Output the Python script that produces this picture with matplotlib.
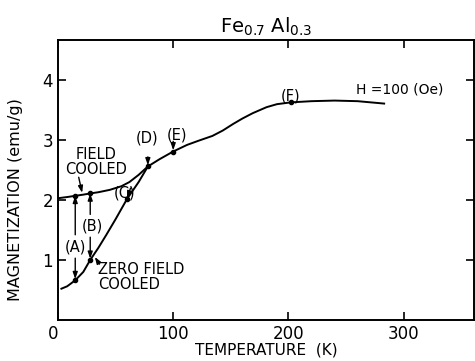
# Fe0.7Al0.3: намагниченность в зависимости от температуры (FC / ZFC)

import matplotlib
matplotlib.use("Agg")
import matplotlib.pyplot as plt

# Кривая при охлаждении в поле (FC)
fc_temp = [0, 8, 15, 22, 28, 35, 45, 55, 62, 70, 78, 88, 100, 112, 122, 134,
           143, 152, 160, 169, 181, 190, 202, 220, 240, 260, 283]
fc_mag = [2.03, 2.05, 2.07, 2.09, 2.11, 2.13, 2.17, 2.23, 2.30, 2.42, 2.56, 2.68,
          2.81, 2.92, 2.99, 3.07, 3.16, 3.27, 3.36, 3.45, 3.55, 3.60, 3.63, 3.65,
          3.66, 3.65, 3.61]

# Кривая при охлаждении без поля (ZFC)
zfc_temp = [3, 8, 15, 22, 28, 35, 42, 50, 60, 70, 78]
zfc_mag = [0.52, 0.56, 0.66, 0.80, 1.00, 1.20, 1.42, 1.68, 2.02, 2.30, 2.56]

# Отмеченные точки
point_names = ["(A)", "(A)", "(B)", "(B)", "(C)", "(D)", "(E)", "(F)"]
point_temp = [15, 15, 28, 28, 60, 78, 100, 202]
point_mag = [0.66, 2.07, 1.00, 2.11, 2.02, 2.56, 2.81, 3.63]

x_ticks = [0, 100, 200, 300]
y_ticks = [1, 2, 3, 4]

fig = plt.figure(figsize=(4.75, 3.61), dpi=100)
ax = fig.add_axes([0.122, 0.114, 0.876, 0.775])

ax.plot(fc_temp, fc_mag, color="black", lw=1.4)
ax.plot(zfc_temp, zfc_mag, color="black", lw=1.4)
ax.plot(point_temp, point_mag, "o", color="black", ms=3)

arrow = dict(arrowstyle="-|>,head_length=0.4,head_width=0.14", color="black", lw=1.0,
             shrinkA=0, shrinkB=0)

# (A) и (B): стрелки между ZFC и FC
ax.text(15, 1.22, "(A)", ha="center", va="center", fontsize=10.5)
ax.annotate("", xy=(15, 2.07), xytext=(15, 1.42), arrowprops=arrow)
ax.annotate("", xy=(15, 0.68), xytext=(15, 1.03), arrowprops=arrow)
ax.text(30, 1.57, "(B)", ha="center", va="center", fontsize=10.5)
ax.annotate("", xy=(28, 2.11), xytext=(28, 1.76), arrowprops=arrow)
ax.annotate("", xy=(28, 1.02), xytext=(28, 1.38), arrowprops=arrow)

ax.text(58, 2.12, "(C)", ha="center", va="center", fontsize=10.5)
ax.annotate("", xy=(60, 2.03), xytext=(63, 2.2), arrowprops=arrow)

ax.text(77, 3.03, "(D)", ha="center", va="center", fontsize=10.5)
ax.annotate("", xy=(78, 2.58), xytext=(78, 2.72), arrowprops=arrow)
ax.text(103, 3.09, "(E)", ha="center", va="center", fontsize=10.5)
ax.annotate("", xy=(100, 2.83), xytext=(100, 2.98), arrowprops=arrow)
ax.text(202, 3.74, "(F)", ha="center", va="center", fontsize=10.5)

# Подписи кривых
ax.text(33, 2.64, "FIELD\nCOOLED", ha="center", va="center", fontsize=10.5,
        linespacing=1.0)
ax.annotate("", xy=(21, 2.12), xytext=(18, 2.38), arrowprops=arrow)
ax.text(35, 0.72, "ZERO FIELD\nCOOLED", ha="left", va="center", fontsize=10.5,
        linespacing=1.0)
ax.annotate("", xy=(32, 1.05), xytext=(36, 0.93), arrowprops=arrow)

ax.text(334, 3.85, "H =100 (Oe)", ha="right", va="center", fontsize=10)

ax.set_xlim(0, 361)
ax.set_ylim(0, 4.67)
ax.set_xticks(x_ticks)
ax.set_yticks(y_ticks)
ax.tick_params(direction="in", length=6, width=1.2, top=True, right=True,
               labelsize=12)
ax.get_xticklabels()[0].set_horizontalalignment("right")
for s in ax.spines.values():
    s.set_linewidth(1.4)

ax.set_xlabel("TEMPERATURE  (K)", fontsize=11, labelpad=0)
ax.set_ylabel("MAGNETIZATION (emu/g)", fontsize=11.5)
ax.yaxis.set_label_coords(-0.085, 0.43)
ax.set_title("Fe$_{0.7}$ Al$_{0.3}$", fontsize=14, pad=5)

fig.savefig("out.png", dpi=100)
